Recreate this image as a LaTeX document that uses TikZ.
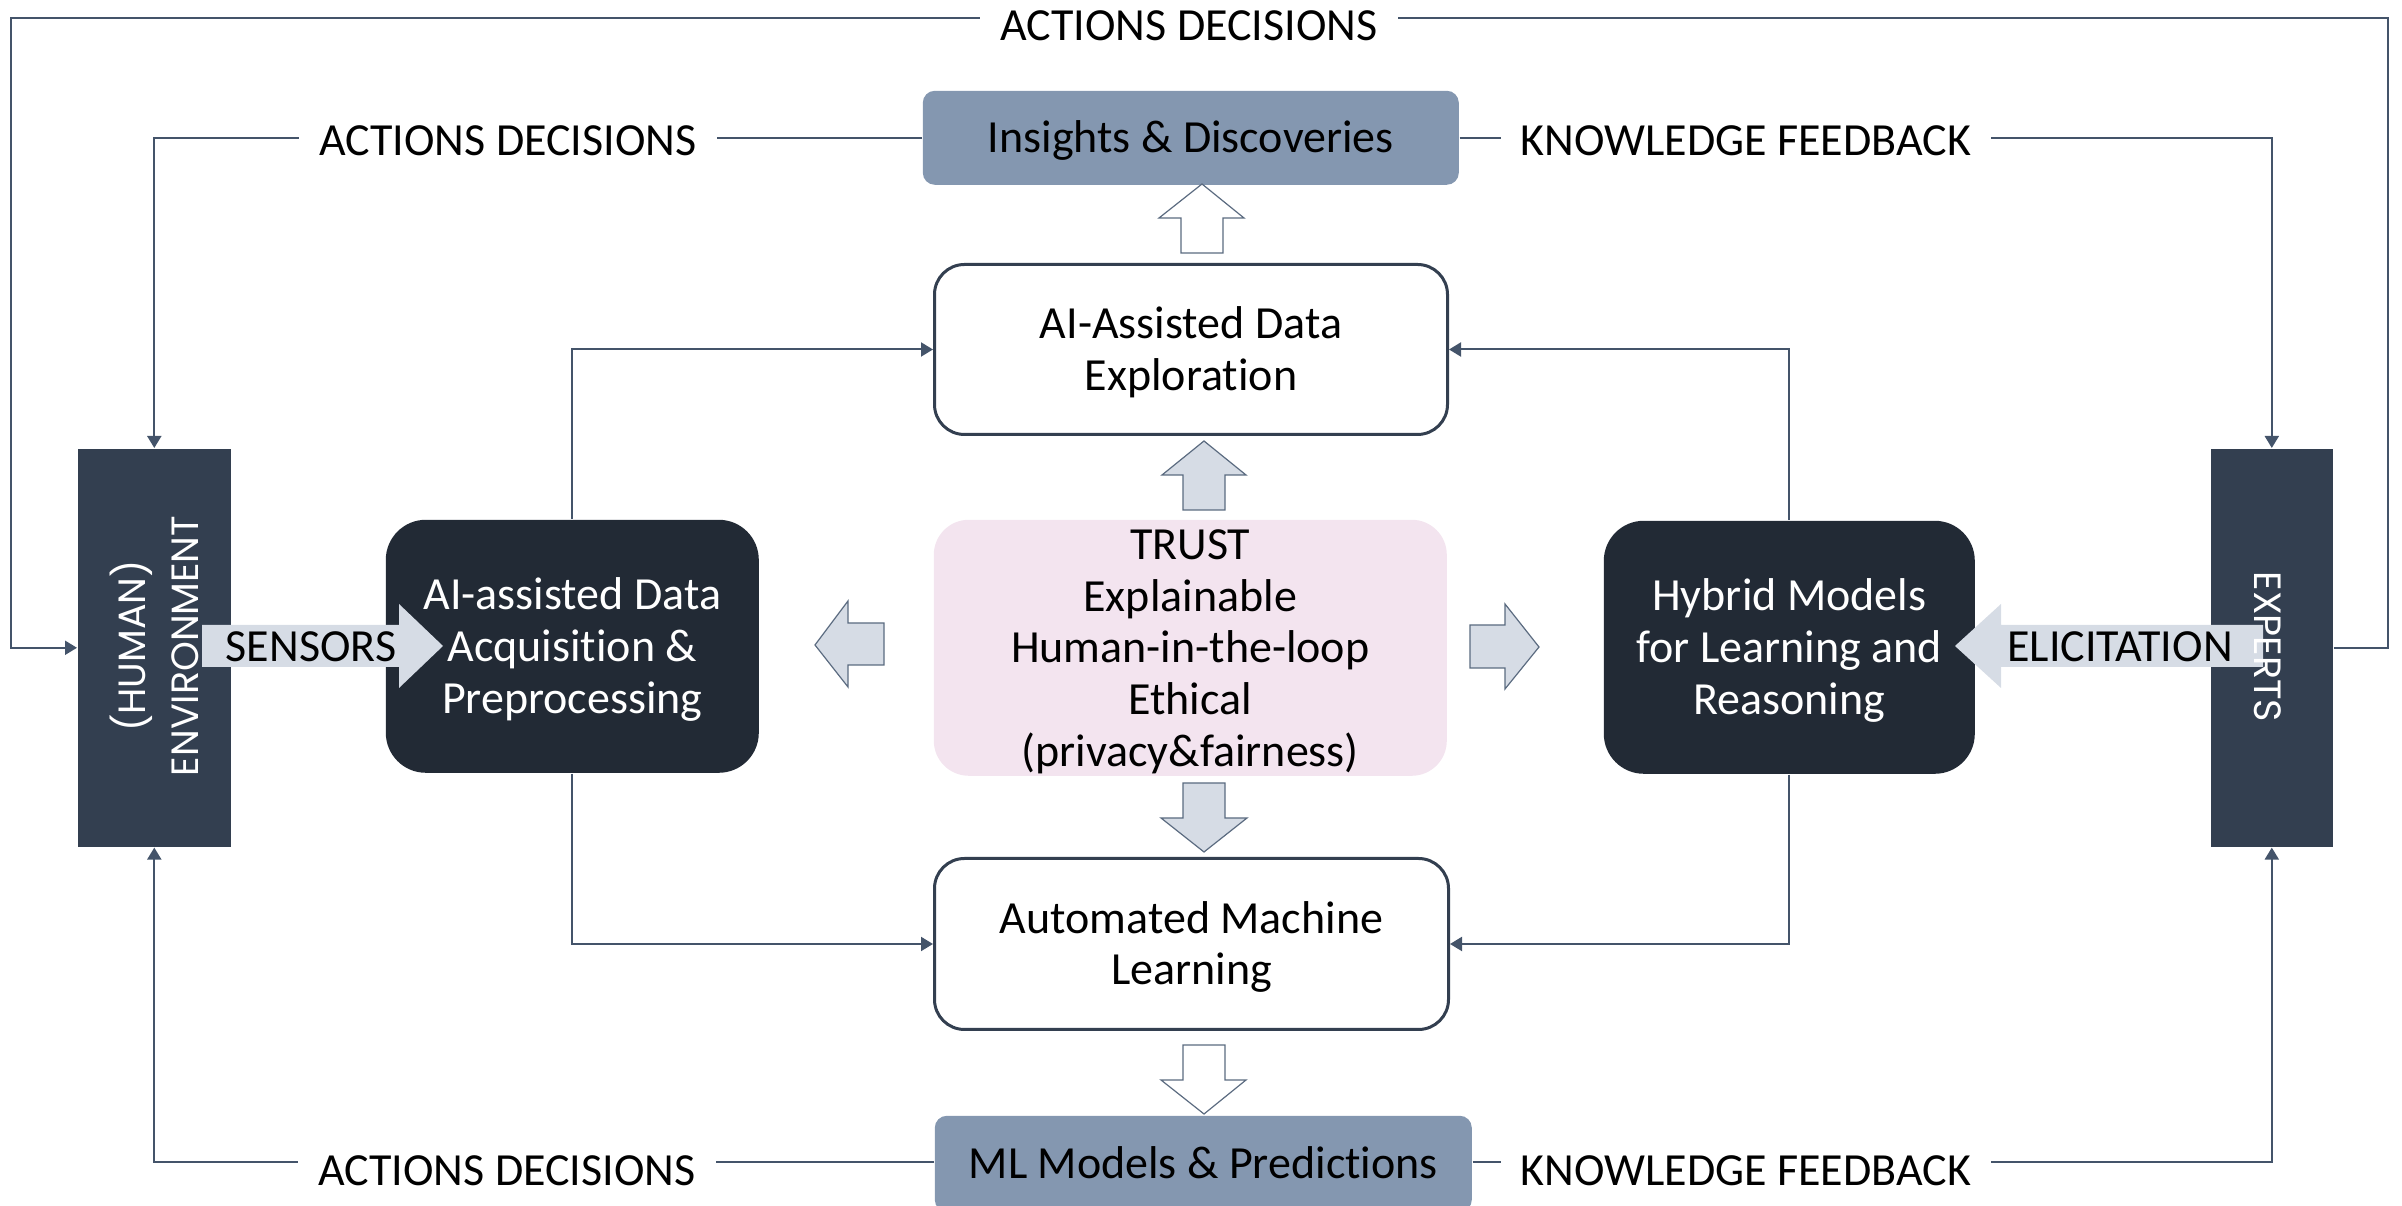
\documentclass[tikz,border=0pt]{standalone}
\usepackage{fontspec}
\setmainfont{Carlito}[Ligatures=NoCommon]
\newfontfamily\gothic{Poppins}
\usetikzlibrary{arrows.meta}
\definecolor{conncol}{HTML}{44546A}
\definecolor{darkbox}{HTML}{222A35}
\definecolor{sidebox}{HTML}{333F50}
\definecolor{bluegray}{HTML}{8497B0}
\definecolor{arrowfill}{HTML}{D6DCE5}
\definecolor{arrowline}{HTML}{5B6B80}
\definecolor{pinkbox}{HTML}{F3E4EF}
\newcommand{\tst}{\rule{0pt}{10pt}}
\newcommand{\bst}{\rule[-2.4pt]{0pt}{2.4pt}}
\tikzset{
  txt/.style={font=\fontsize{11.5pt}{12.9pt}\selectfont, align=center},
  conn/.style={draw=conncol, line width=0.5pt, -{Triangle[length=3pt,width=3.5pt]}},
  sidebox/.style={fill=sidebox, draw=none, inner sep=0pt, anchor=north west},
  sidetext/.style={text=white, font=\gothic\fontsize{9.5pt}{13.25pt}\selectfont, align=center, inner sep=0pt},
  resultbox/.style={txt, fill=bluegray, draw=none, rounded corners=3pt, inner sep=0pt, anchor=north west},
  whitebox/.style={txt, fill=white, draw=sidebox, line width=0.75pt, rounded corners=7.5pt, inner sep=0pt, anchor=north west},
  darkbox/.style={txt, fill=darkbox, draw=none, text=white, rounded corners=10pt, inner sep=0pt, anchor=north west},
  trustbox/.style={txt, fill=pinkbox, draw=none, rounded corners=8.75pt, inner sep=0pt, anchor=north west},
  lbl/.style={txt, fill=white, inner xsep=5pt, inner ysep=1pt},
  blockgray/.style={fill=arrowfill, draw=arrowline, line width=0.3pt, line join=miter},
  blockwhite/.style={fill=white, draw=arrowline, line width=0.3pt, line join=miter},
}
\begin{document}
\begin{tikzpicture}[x=0.25pt, y=-0.25pt]
\useasboundingbox (0,0) rectangle (2402,1206);
\clip (0,0) rectangle (2402,1206);

% side boxes
\node[sidebox, minimum width=38.25pt, minimum height=99.5pt] (env) at (77,448) {};
\node[sidebox, minimum width=30.5pt, minimum height=99.5pt] (experts) at (2210,448) {};

% central boxes
\node[resultbox, minimum width=134pt, minimum height=23.5pt] (insights) at (922,90) {\tst Insights \& Discoveries\bst};
\node[whitebox, minimum width=128.25pt, minimum height=42.5pt] (explo) at (933,263) {\tst AI-Assisted Data\\Exploration\bst};
\node[trustbox, minimum width=128.25pt, minimum height=63.25pt] (trust) at (933,519) {\tst TRUST\\Explainable\\Human-in-the-loop\\Ethical\\(privacy\&fairness)\bst};
\node[whitebox, minimum width=128.5pt, minimum height=42.75pt] (automl) at (933,857) {\tst Automated Machine\\Learning\bst};
\node[resultbox, minimum width=134.25pt, minimum height=24pt] (ml) at (934,1115) {\tst ML Models \& Predictions\bst};
\node[darkbox, minimum width=93.25pt, minimum height=63.25pt] (acq) at (385,519) {\tst AI-assisted Data\\Acquisition \&\\Preprocessing\bst};
\node[darkbox, minimum width=92.75pt, minimum height=63.25pt] (hybrid) at (1603,520) {\tst Hybrid Models\\for Learning and\\Reasoning\bst};

% corner coordinates of the outer loop
\coordinate (cTR) at (2388,18);
\coordinate (cTL) at (11,18);

% connectors
\draw[conn] (experts.east) -| (cTR) -- (cTL) |- (env.west);
\draw[conn] (insights.west) -| (env.north);
\draw[conn] (insights.east) -| (experts.north);
\draw[conn] ([yshift=0.5pt]ml.west) -| (env.south);
\draw[conn] ([yshift=0.5pt]ml.east) -| (experts.south);
\draw[conn] (acq.north) |- (explo.west);
\draw[conn] (acq.south) |- (automl.west);
\draw[conn] (hybrid.north) |- (explo.east);
\draw[conn] (hybrid.south) |- (automl.east);

% connector labels
\node[lbl] (ltop) at (1189,26) {ACTIONS DECISIONS};
\node[lbl] (lad1) at (508,141) {ACTIONS DECISIONS};
\node[lbl] (lkf1) at (1746,141) {KNOWLEDGE FEEDBACK};
\node[lbl] (lad2) at (507,1171) {ACTIONS DECISIONS};
\node[lbl] (lkf2) at (1746,1171) {KNOWLEDGE FEEDBACK};

% block arrows
\draw[blockwhite] (1181,253)--(1181,218)--(1159,218)--(1202,184)--(1244,218)--(1223,218)--(1223,253)--cycle;
\draw[blockgray] (1183,510)--(1183,475)--(1162,475)--(1204,441)--(1246,475)--(1225,475)--(1225,510)--cycle;
\draw[blockgray] (1183,783)--(1183,818)--(1161,818)--(1204,852)--(1247,818)--(1225,818)--(1225,783)--cycle;
\draw[blockwhite] (1183,1045)--(1183,1080)--(1161,1080)--(1204,1114)--(1246,1080)--(1225,1080)--(1225,1045)--cycle;
\draw[blockgray] (884,623)--(848,623)--(848,601)--(815,645)--(848,687)--(848,665)--(884,665)--cycle;
\draw[blockgray] (1470,625)--(1505,625)--(1505,604)--(1539,647)--(1505,689)--(1505,668)--(1470,668)--cycle;
\path[fill=arrowfill] (202,625)--(399,625)--(399,604)--(443,646)--(399,688)--(399,667)--(202,667)--cycle;
\path[fill=arrowfill] (2263,625)--(2001,625)--(2001,604)--(1955,646)--(2001,688)--(2001,667)--(2263,667)--cycle;
\node[txt] (sensors) at (311,647) {SENSORS};
\node[txt] (elicit) at (2120,647) {ELICITATION};

% side texts
\node[sidetext, rotate=90] (envtext) at (154,646) {(HUMAN)\\ENVIRONMENT};
\node[sidetext, rotate=-90] (exptext) at (2268,647) {EXPERTS};
\end{tikzpicture}
\end{document}
